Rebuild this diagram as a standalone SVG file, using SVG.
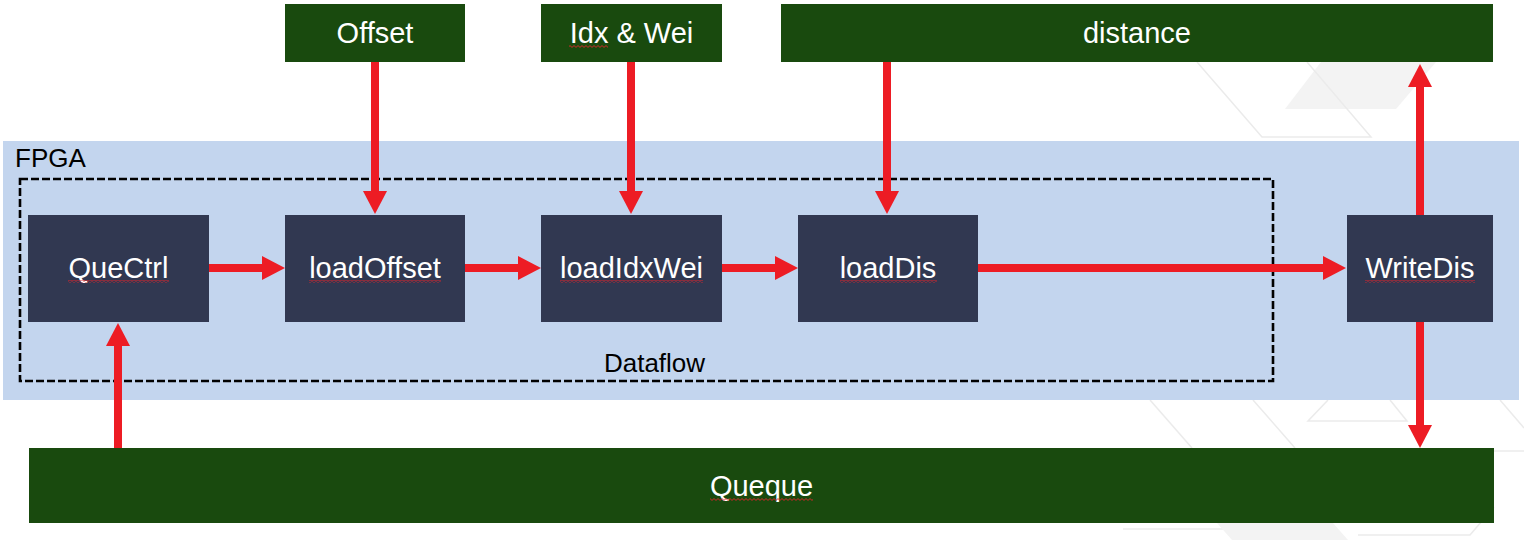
<svg xmlns="http://www.w3.org/2000/svg" width="1524" height="540" viewBox="0 0 1524 540">
  <style>
    .bgline { fill: none; stroke: #ebebeb; stroke-width: 1.5; }
    .bgfill { fill: #f3f3f3; stroke: none; }
    .fpga { fill: #c3d5ee; }
    .dash { fill: none; stroke: #000; stroke-width: 2.6; stroke-dasharray: 8 3; }
    .proc { fill: #313851; }
    .mem { fill: #194a0e; }
    .lbl { font-family: "Liberation Sans", Arial, sans-serif; font-size: 29px; fill: #ffffff; text-anchor: middle; }
    .dark { font-family: "Liberation Sans", Arial, sans-serif; font-size: 26px; fill: #000000; }
    .wire { fill: none; stroke: #ed1c24; stroke-width: 8; marker-end: url(#ah); }
    .sq { fill: url(#squig); }
  </style>
  <defs>
    <marker id="ah" markerUnits="userSpaceOnUse" markerWidth="24" markerHeight="24" viewBox="0 0 24 24" refX="1" refY="12" orient="auto">
      <path d="M0,0 L23,12 L0,24 Z" fill="#ed1c24"/>
    </marker>
    <pattern id="squig" patternUnits="userSpaceOnUse" width="4" height="3">
      <path d="M0,2.4 L2,0.6 L4,2.4" fill="none" stroke="#e0222a" stroke-width="0.9"/>
    </pattern>
  </defs>

  <rect width="1524" height="540" fill="#ffffff"/>

  <g id="background">
    <polygon class="bgfill" points="1285,109 1396,109 1436,62 1321,62"/>
    <polyline class="bgline" points="1197,62 1262,137 1371,137 1307,62"/>
    <polyline class="bgline" points="1150,400 1192,448"/>
    <polyline class="bgline" points="1253,400 1295,448"/>
    <polyline class="bgline" points="1328,400 1308,421 1407,421 1390,400"/>
    <polyline class="bgline" points="1500,400 1524,428"/>
    <polyline class="bgline" points="1494,451 1524,451"/>
    <polyline class="bgline" points="1123,529 1230,529 1240,523"/>
    <polygon class="bgfill" points="1217,523 1333,523 1348,540 1232,540"/>
    <polyline class="bgline" points="1358,535 1470,535 1494,507"/>
  </g>

  <g id="fpga">
    <rect class="fpga" x="3" y="141" width="1516" height="259"/>
    <text class="dark" x="15" y="167">FPGA</text>
  </g>

  <g id="dataflow">
    <rect class="dash" x="20" y="179" width="1253" height="202"/>
    <text class="dark" x="654.5" y="372" text-anchor="middle">Dataflow</text>
  </g>

  <g id="connectors">
    <line class="wire" x1="209" y1="268" x2="263" y2="268"/>
    <line class="wire" x1="465" y1="268" x2="519" y2="268"/>
    <line class="wire" x1="722" y1="268" x2="776" y2="268"/>
    <line class="wire" x1="978" y1="268" x2="1324" y2="268"/>
    <line class="wire" x1="375" y1="62" x2="375" y2="192"/>
    <line class="wire" x1="631" y1="62" x2="631" y2="192"/>
    <line class="wire" x1="887" y1="62" x2="887" y2="192"/>
    <line class="wire" x1="118" y1="449" x2="118" y2="345"/>
    <line class="wire" x1="1420" y1="215" x2="1420" y2="86"/>
    <line class="wire" x1="1420" y1="322" x2="1420" y2="426"/>
  </g>

  <g id="offset">
    <rect class="mem" x="285" y="4" width="180" height="58"/>
    <text class="lbl" x="375" y="43">Offset</text>
  </g>
  <g id="idxwei">
    <rect class="mem" x="541" y="4" width="181" height="58"/>
    <text class="lbl" x="631.5" y="43">Idx &amp; Wei</text>
    <rect class="sq" x="569" y="45" width="39" height="3"/>
  </g>
  <g id="distance">
    <rect class="mem" x="781" y="4" width="712" height="58"/>
    <text class="lbl" x="1137" y="43">distance</text>
  </g>

  <g id="quectrl">
    <rect class="proc" x="28" y="215" width="181" height="107"/>
    <text class="lbl" x="118.5" y="278">QueCtrl</text>
    <rect class="sq" x="68" y="280" width="101" height="3"/>
  </g>
  <g id="loadoffset">
    <rect class="proc" x="285" y="215" width="180" height="107"/>
    <text class="lbl" x="375" y="278">loadOffset</text>
    <rect class="sq" x="309" y="280" width="132" height="3"/>
  </g>
  <g id="loadidxwei">
    <rect class="proc" x="541" y="215" width="181" height="107"/>
    <text class="lbl" x="631.5" y="278">loadIdxWei</text>
    <rect class="sq" x="560" y="280" width="143" height="3"/>
  </g>
  <g id="loaddis">
    <rect class="proc" x="798" y="215" width="180" height="107"/>
    <text class="lbl" x="888" y="278">loadDis</text>
    <rect class="sq" x="840" y="280" width="97" height="3"/>
  </g>
  <g id="writedis">
    <rect class="proc" x="1347" y="215" width="146" height="107"/>
    <text class="lbl" x="1420" y="278">WriteDis</text>
    <rect class="sq" x="1365" y="280" width="110" height="3"/>
  </g>

  <g id="queque">
    <rect class="mem" x="29" y="448" width="1465" height="75"/>
    <text class="lbl" x="761.5" y="496">Queque</text>
    <rect class="sq" x="710" y="498" width="103" height="3"/>
  </g>
</svg>
